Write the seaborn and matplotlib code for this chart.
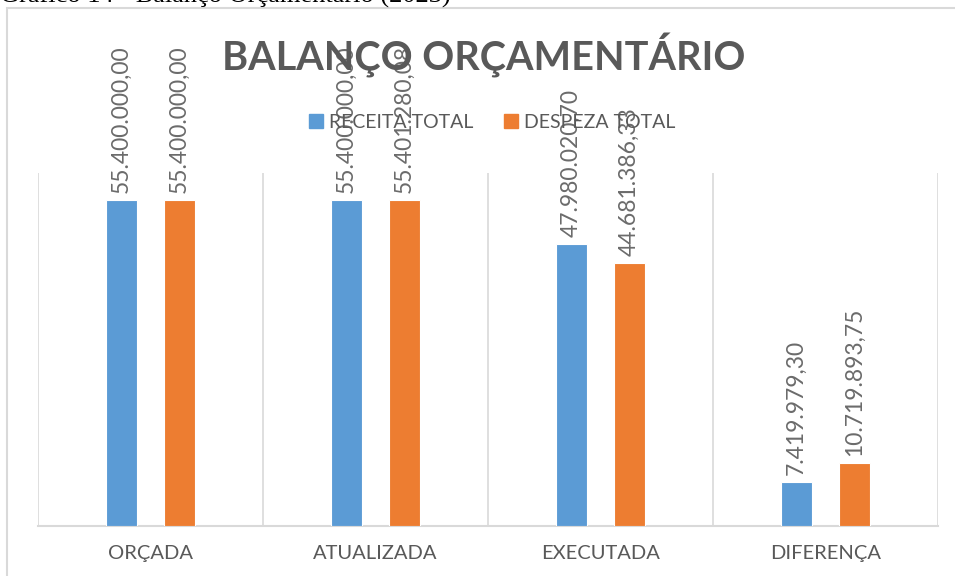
import matplotlib
matplotlib.use('Agg')
import matplotlib.pyplot as plt
import matplotlib.patches as mpatches
import pandas as pd
import seaborn as sns

# Data
categorias = ['ORÇADA', 'ATUALIZADA', 'EXECUTADA', 'DIFERENÇA']
series = ['RECEITA TOTAL', 'DESPEZA TOTAL']
receita = [55400000.00, 55400000.00, 47980020.70, 7419979.30]
despesa = [55400000.00, 55401280.08, 44681386.33, 10719893.75]
cores = ['#5B9BD5', '#ED7D31']

df = pd.DataFrame({
    'categoria': categorias * 2,
    'serie': [series[0]] * 4 + [series[1]] * 4,
    'valor': receita + despesa,
})


def fmt_br(v):
    s = f'{v:,.2f}'
    return s.replace(',', '#').replace('.', ',').replace('#', '.')


sns.set_style('white')
plt.rcParams['font.family'] = ['Lato', 'DejaVu Sans']

fig = plt.figure(figsize=(9.55, 5.76), dpi=100)
ax = fig.add_axes([38 / 955, 1 - 526 / 576, 900 / 955, 353 / 576])

sns.barplot(data=df, x='categoria', y='valor', hue='serie', order=categorias,
            hue_order=series, palette=cores, saturation=1, width=0.516,
            gap=0.48, edgecolor='white', linewidth=0.8, ax=ax, legend=False,
            zorder=3)

ax.set_ylim(0, 60e6)
ax.set_xlim(-0.5, 3.5)
ax.set_xlabel('')
ax.set_ylabel('')
ax.set_yticks([])

# gridlines at category boundaries
ax.set_xticks([-0.5, 0.5, 1.5, 2.5, 3.5], minor=True)
ax.grid(True, which='minor', axis='x', color='#D9D9D9', linewidth=1.2)
ax.grid(False, which='major')
ax.tick_params(axis='x', which='both', length=0, pad=14,
               labelsize=14.5, labelcolor='#595959')

for s in ['top', 'right', 'left']:
    ax.spines[s].set_visible(False)
ax.spines['bottom'].set_color('#D9D9D9')
ax.spines['bottom'].set_linewidth(1.5)

# data labels
for cont, vals in zip(ax.containers, [receita, despesa]):
    ax.bar_label(cont, labels=[fmt_br(v) for v in vals], rotation=90,
                 padding=5, fontsize=16.5, color='#6B6B6B',
                 clip_on=False, zorder=6)

# title
fig.text(484 / 955, 1 - 56 / 576, 'BALANÇO ORÇAMENTÁRIO', ha='center',
         va='center', fontsize=28.5, fontweight='bold', color='#595959')

# legend
handles = [mpatches.Patch(color=c, label=s) for c, s in zip(cores, series)]
fig.legend(handles=handles, loc='center', bbox_to_anchor=(492 / 955, 1 - 122 / 576),
           ncol=2, frameon=False, fontsize=14, labelcolor='#595959',
           handlelength=0.72, handleheight=0.72, handletextpad=0.3,
           columnspacing=1.6)

# chart frame
frame = mpatches.Rectangle((7 / 955, -0.1), 1.2, 1.1 - 8 / 576,
                           transform=fig.transFigure, fill=False,
                           edgecolor='#D9D9D9', linewidth=1.5, zorder=0)
fig.patches.append(frame)

# caption (cut off at the top edge as in the source)
fig.text(0.0, 1 - 3 / 576, 'Gráfico 14 - Balanço Orçamentário (2023)',
         ha='left', va='baseline', fontsize=19, color='black',
         family=['Liberation Serif', 'DejaVu Serif'])

fig.savefig('out.png', dpi=100)
